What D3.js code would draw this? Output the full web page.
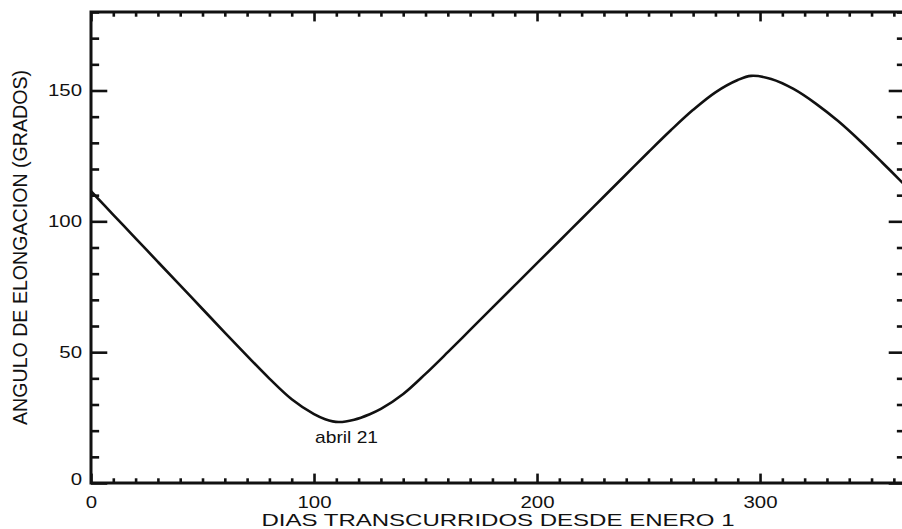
<!DOCTYPE html>
<html>
<head>
<meta charset="utf-8">
<script src="https://cdn.jsdelivr.net/npm/d3@7"></script>
<style>
  html, body { margin: 0; padding: 0; background: #fff; }
  svg { display: block; }
  text { font-family: "Liberation Sans", Arial, Helvetica, sans-serif; fill: #111; }
</style>
</head>
<body>
<svg id="chart" width="902" height="529"></svg>
<script>
// Day of year (since January 1) and elongation angle in degrees
const days  = [0, 10, 20, 30, 40, 50, 60, 70, 80, 90, 100, 105, 111, 118, 125, 130, 140, 150,
               160, 170, 180, 190, 200, 210, 220, 230, 240, 250, 260, 270, 280, 290, 296,
               305, 315, 325, 335, 345, 355, 365];
const elong = [111.5, 102.5, 93.5, 84.5, 75.5, 66.5, 57.5, 48.6, 39.9, 32.0, 26.3, 24.4, 23.3, 24.2, 26.3, 28.3, 34.0, 41.7,
               50.0, 58.5, 67.0, 75.5, 84.0, 92.5, 101.0, 109.5, 118.0, 126.5, 134.8, 142.6, 149.3, 154.0, 155.6,
               154.4, 150.6, 145.0, 138.3, 130.6, 122.3, 113.8];

const xMajorTicks = [0, 100, 200, 300];
const yMajorTicks = [0, 50, 100, 150];
const xDomain = [0, 365];
const yDomain = [0, 180];

const minLabel = { day: 111, text: "abril 21" };
const xTitle = "DIAS  TRANSCURRIDOS  DESDE  ENERO 1";
const yTitle = "ANGULO  DE  ELONGACION  (GRADOS)";

const svg = d3.select("#chart");
const plot = { left: 91, right: 905, top: 12, bottom: 483 };

const x = d3.scaleLinear().domain(xDomain).range([plot.left, plot.right]);
const y = d3.scaleLinear().domain(yDomain).range([plot.bottom, plot.top]);

const xMinor = d3.range(xDomain[0], xDomain[1] + 1, 10).filter(d => !xMajorTicks.includes(d));
const yMinor = d3.range(yDomain[0], yDomain[1] + 1, 10).filter(d => !yMajorTicks.includes(d));

// tick lengths are a fixed fraction of the span across the axis
const xTickLen = 0.02 * (plot.bottom - plot.top);
const yTickLen = 0.02 * (plot.right - plot.left);

function widen(sel, k) {
  sel.each(function () {
    const w = this.getComputedTextLength();
    this.setAttribute("textLength", w * k);
    this.setAttribute("lengthAdjust", "spacingAndGlyphs");
  });
}

function styleAxis(g) {
  g.select(".domain").remove();
  g.selectAll(".tick line").attr("stroke", "#111").attr("stroke-width", 2.6);
}

function styleLabels(g) {
  g.selectAll("text")
    .attr("font-size", 17)
    .attr("font-family", null)
    .attr("fill", "#111")
    .call(widen, 1.2);
}

// bottom axis
const gBottom = svg.append("g").attr("transform", `translate(0,${plot.bottom})`);
gBottom.append("g").call(d3.axisBottom(x).tickValues(xMinor).tickSize(-xTickLen / 2).tickFormat(""))
  .call(styleAxis);
gBottom.append("g")
  .call(d3.axisBottom(x).tickValues(xMajorTicks).tickSize(-xTickLen).tickPadding(13).tickFormat(d3.format("d")))
  .call(styleAxis)
  .call(styleLabels);

// top axis
const gTop = svg.append("g").attr("transform", `translate(0,${plot.top})`);
gTop.append("g").call(d3.axisTop(x).tickValues(xMinor).tickSize(-xTickLen / 2).tickFormat("")).call(styleAxis);
gTop.append("g").call(d3.axisTop(x).tickValues(xMajorTicks).tickSize(-xTickLen).tickFormat("")).call(styleAxis);

// left axis
const gLeft = svg.append("g").attr("transform", `translate(${plot.left},0)`);
gLeft.append("g").call(d3.axisLeft(y).tickValues(yMinor).tickSize(-yTickLen / 2).tickFormat("")).call(styleAxis);
gLeft.append("g")
  .call(d3.axisLeft(y).tickValues(yMajorTicks).tickSize(-yTickLen).tickPadding(9).tickFormat(d3.format("d")))
  .call(styleAxis)
  .call(styleLabels);
// the zero label sits just above the corner
gLeft.selectAll(".tick").filter(d => d === 0).select("text").attr("y", -4);

// right axis
const gRight = svg.append("g").attr("transform", `translate(${plot.right},0)`);
gRight.append("g").call(d3.axisRight(y).tickValues(yMinor).tickSize(-yTickLen / 2).tickFormat("")).call(styleAxis);
gRight.append("g").call(d3.axisRight(y).tickValues(yMajorTicks).tickSize(-yTickLen).tickFormat("")).call(styleAxis);

// plot frame
svg.append("rect")
  .attr("x", plot.left).attr("y", plot.top)
  .attr("width", plot.right - plot.left).attr("height", plot.bottom - plot.top)
  .attr("fill", "none").attr("stroke", "#111").attr("stroke-width", 3);

// elongation curve
const pts = days.map((d, i) => [d, elong[i]]);
svg.append("path")
  .datum(pts)
  .attr("fill", "none")
  .attr("stroke", "#111")
  .attr("stroke-width", 2.6)
  .attr("stroke-linejoin", "round")
  .attr("d", d3.line().x(d => x(d[0])).y(d => y(d[1])).curve(d3.curveCatmullRom.alpha(0.5)));

// minimum annotation
const minIdx = days.indexOf(minLabel.day);
svg.append("text")
  .attr("x", x(minLabel.day) + 8)
  .attr("y", y(elong[minIdx]) + 21)
  .attr("text-anchor", "middle")
  .attr("font-size", 17)
  .text(minLabel.text)
  .call(widen, 1.13);

// axis titles
svg.append("text")
  .attr("x", (plot.left + plot.right) / 2)
  .attr("y", 526)
  .attr("text-anchor", "middle")
  .attr("font-size", 17)
  .attr("textLength", 473)
  .attr("lengthAdjust", "spacingAndGlyphs")
  .text(xTitle);

svg.append("text")
  .attr("transform", `translate(27,${(plot.top + plot.bottom) / 2}) rotate(-90) scale(1,1.2)`)
  .attr("text-anchor", "middle")
  .attr("font-size", 17)
  .attr("textLength", 355)
  .attr("lengthAdjust", "spacingAndGlyphs")
  .text(yTitle);
</script>
</body>
</html>
